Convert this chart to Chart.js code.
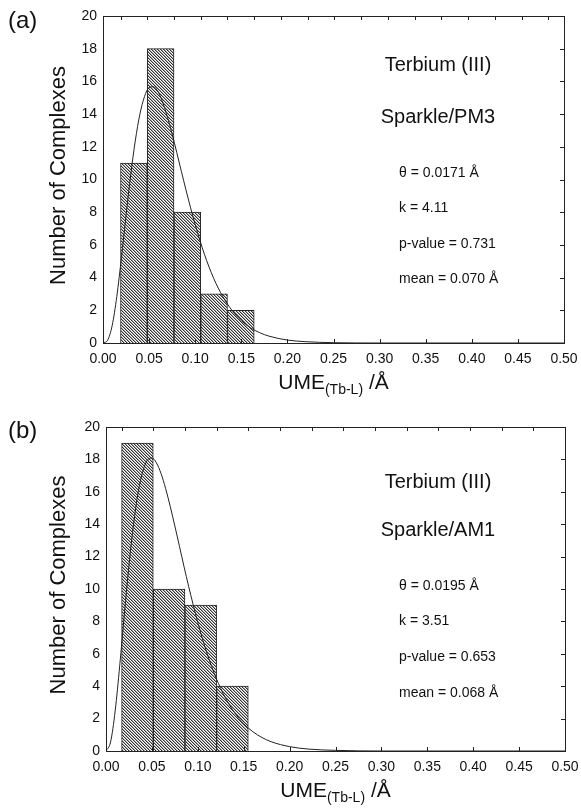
<!DOCTYPE html>
<html>
<head>
<meta charset="utf-8">
<script src="https://cdn.jsdelivr.net/npm/chart.js@4.4.1/dist/chart.umd.min.js"></script>
<style>
  html, body { margin: 0; padding: 0; background: #fff; }
  #wrap { position: relative; width: 581px; height: 809px; }
  canvas { position: absolute; left: 0; }
</style>
</head>
<body>
<div id="wrap">
  <canvas id="chart-a" width="581" height="400" style="top:0"></canvas>
  <canvas id="chart-b" width="581" height="409" style="top:400px"></canvas>
</div>
<script>
// histogram bins (centres) and counts
const binCentersA = [0.0335, 0.0625, 0.0915, 0.1205, 0.1495];
const countsA = [11, 18, 8, 3, 2];
const binCentersB = [0.03425, 0.06875, 0.10325, 0.13775];
const countsB = [19, 10, 9, 4];

// fitted gamma curve
const fitX = [0, 0.005, 0.01, 0.015, 0.02, 0.025, 0.03, 0.035, 0.04, 0.045, 0.05, 0.055,
  0.06, 0.065, 0.07, 0.075, 0.08, 0.085, 0.09, 0.095, 0.10, 0.11, 0.12, 0.13, 0.14,
  0.15, 0.16, 0.17, 0.18, 0.20, 0.22, 0.25, 0.30, 0.40, 0.50];
const fitA = [0, 0.17, 1.08, 2.86, 5.22, 7.80, 10.26, 12.36, 13.99, 15.07, 15.62, 15.67,
  15.34, 14.68, 13.80, 12.77, 11.65, 10.50, 9.36, 8.27, 7.24, 5.43, 3.96, 2.83, 1.99,
  1.37, 0.93, 0.63, 0.42, 0.18, 0.08, 0.02, 0, 0, 0];
const fitB = [0, 0.56, 2.48, 5.30, 8.45, 11.44, 14.0, 15.95, 17.25, 17.95, 18.09, 17.78,
  17.12, 16.19, 15.09, 13.89, 12.64, 11.38, 10.17, 9.02, 7.93, 6.04, 4.50, 3.29, 2.37,
  1.69, 1.19, 0.83, 0.57, 0.27, 0.12, 0.04, 0, 0, 0];

const notesA = ['Terbium (III)', 'Sparkle/PM3'];
const statsA = ['\u03B8 = 0.0171 \u00C5', 'k = 4.11', 'p-value = 0.731', 'mean = 0.070 \u00C5'];
const notesB = ['Terbium (III)', 'Sparkle/AM1'];
const statsB = ['\u03B8 = 0.0195 \u00C5', 'k = 3.51', 'p-value = 0.653', 'mean = 0.068 \u00C5'];

const FONT = "'Liberation Sans', Arial, sans-serif";

// diagonal hatch fill
function hatch() {
  const c = document.createElement('canvas');
  c.width = 3; c.height = 3;
  const g = c.getContext('2d');
  g.fillStyle = '#fff';
  g.fillRect(0, 0, 3, 3);
  for (let i = 0; i < 3; i++) {
    g.fillStyle = '#333';
    g.fillRect(i, i, 1, 1);
    g.fillStyle = '#aaa';
    g.fillRect((i + 1) % 3, i, 1, 1);
  }
  return g.createPattern(c, 'repeat');
}

const frame = {
  id: 'frame',
  afterDraw(chart, args, o) {
    const { ctx, chartArea: a } = chart;
    const x = chart.scales.x, y = chart.scales.y;
    ctx.save();
    ctx.strokeStyle = '#222';
    ctx.lineWidth = 1;
    ctx.strokeRect(a.left + 0.5, a.top + 0.5, a.right - a.left, a.bottom - a.top);

    ctx.beginPath();
    // bottom ticks at labels
    x.ticks.forEach(t => {
      const px = Math.round(x.getPixelForValue(t.value)) + 0.5;
      ctx.moveTo(px, a.bottom); ctx.lineTo(px, a.bottom - 4);
    });
    // top ticks at bin edges
    const c = o.centers, step = c[1] - c[0];
    for (let v = c[0] - step / 2; v < x.max; v += step) {
      const px = Math.round(x.getPixelForValue(v)) + 0.5;
      ctx.moveTo(px, a.top); ctx.lineTo(px, a.top + 4);
    }
    // right ticks
    y.ticks.forEach(t => {
      const py = Math.round(y.getPixelForValue(t.value)) + 0.5;
      ctx.moveTo(a.right, py); ctx.lineTo(a.right - 4, py);
    });
    ctx.stroke();

    ctx.fillStyle = '#111';
    ctx.textBaseline = 'alphabetic';

    // panel letter
    ctx.textAlign = 'left';
    ctx.font = '24px ' + FONT;
    ctx.fillText(o.label, 8, o.labelY);

    // y title
    ctx.save();
    ctx.translate(59, (a.top + a.bottom) / 2 - 4);
    ctx.rotate(-Math.PI / 2);
    ctx.textAlign = 'center';
    ctx.textBaseline = 'middle';
    ctx.font = '22px ' + FONT;
    ctx.fillText('Number of Complexes', 0, 0);
    ctx.restore();

    // x title with subscript
    ctx.textAlign = 'left';
    ctx.font = '21px ' + FONT;
    const w1 = ctx.measureText('UME').width;
    const w3 = ctx.measureText(' /\u00C5').width;
    ctx.font = '14px ' + FONT;
    const w2 = ctx.measureText('(Tb-L)').width;
    let sx = (a.left + a.right) / 2 - (w1 + w2 + w3) / 2;
    const by = a.bottom + 46;
    ctx.font = '21px ' + FONT;
    ctx.fillText('UME', sx, by);
    ctx.font = '14px ' + FONT;
    ctx.fillText('(Tb-L)', sx + w1, by + 5);
    ctx.font = '21px ' + FONT;
    ctx.fillText(' /\u00C5', sx + w1 + w2, by);

    // notes
    ctx.textAlign = 'center';
    ctx.font = '20px ' + FONT;
    o.notes.forEach((s, i) => ctx.fillText(s, 438, o.noteY[i]));
    ctx.textAlign = 'left';
    ctx.font = '14px ' + FONT;
    o.stats.forEach((s, i) => ctx.fillText(s, 399, o.statY[i]));
    ctx.restore();
  }
};

function makeChart(id, centers, counts, fit, opts) {
  const ctx = document.getElementById(id).getContext('2d');
  return new Chart(ctx, {
    type: 'bar',
    data: {
      datasets: [
        {
          type: 'line',
          data: fitX.map((v, i) => ({ x: v, y: fit[i] })),
          borderColor: '#222',
          borderWidth: 1,
          pointRadius: 0,
          cubicInterpolationMode: 'monotone',
          order: 0
        },
        {
          data: centers.map((v, i) => ({ x: v, y: counts[i] })),
          backgroundColor: hatch(),
          borderColor: '#222',
          borderWidth: 1,
          barPercentage: 1,
          categoryPercentage: 1,
          order: 1
        }
      ]
    },
    options: {
      responsive: false,
      animation: false,
      devicePixelRatio: 1,
      layout: { padding: { left: 0, right: opts.right, top: opts.top, bottom: 0 } },
      plugins: {
        legend: { display: false },
        tooltip: { enabled: false },
        frame: opts
      },
      scales: {
        x: {
          type: 'linear',
          min: 0, max: 0.5,
          offset: false,
          grid: { display: false, drawTicks: false },
          border: { display: false },
          ticks: {
            stepSize: 0.05,
            maxRotation: 0,
            padding: 8,
            color: '#111',
            font: { family: FONT, size: 14 },
            callback: v => v.toFixed(2)
          },
          afterFit: s => { s.height = opts.xh; s.paddingLeft = 0; s.paddingRight = 0; }
        },
        y: {
          min: 0, max: 20,
          grid: { display: false, drawTicks: false },
          border: { display: false },
          ticks: {
            stepSize: 2,
            padding: 6,
            color: '#111',
            font: { family: FONT, size: 14 }
          },
          afterFit: s => { s.width = opts.yw; s.paddingTop = 0; s.paddingBottom = 0; }
        }
      }
    },
    plugins: [frame]
  });
}

makeChart('chart-a', binCentersA, countsA, fitA, {
  label: '(a)', labelY: 28, centers: binCentersA,
  notes: notesA, noteY: [71, 122.5],
  stats: statsA, statY: [176.5, 212, 247.5, 282.5],
  top: 16, right: 17, xh: 57, yw: 103
});
makeChart('chart-b', binCentersB, countsB, fitB, {
  label: '(b)', labelY: 38, centers: binCentersB,
  notes: notesB, noteY: [88, 136],
  stats: statsB, statY: [190, 225, 261, 296.5],
  top: 27, right: 16, xh: 58, yw: 106
});
</script>
</body>
</html>
